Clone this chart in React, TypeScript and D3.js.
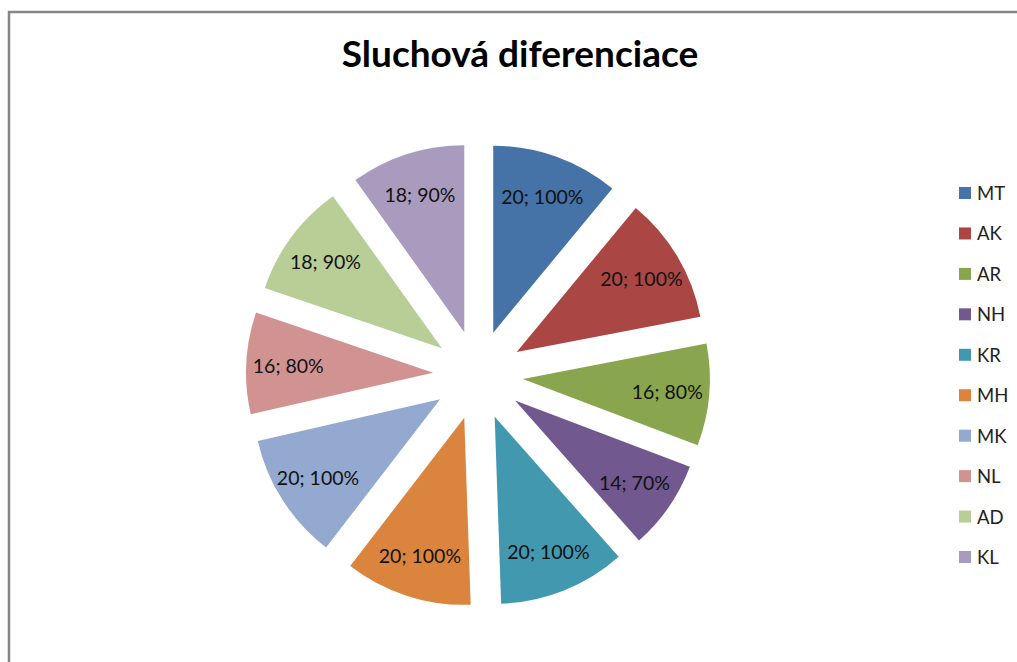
import React from "react";
import * as d3 from "d3";

const categories = ["MT", "AK", "AR", "NH", "KR", "MH", "MK", "NL", "AD", "KL"];
const values = [20, 20, 16, 14, 20, 20, 20, 16, 18, 18];
const percents = ["100%", "100%", "80%", "70%", "100%", "100%", "100%", "80%", "90%", "90%"];
const colors = ["#4572A7", "#AA4643", "#89A54E", "#71588F", "#4198AF", "#DB843D", "#93A9CF", "#D19392", "#B9CD96", "#A99BBD"];

const W = 1017;
const H = 662;
const cx = 478;
const cy = 375;
const R = 187;
const explode = 45;
const labelDist = 145;
const FONT = "Lato, 'Open Sans', sans-serif";

export default function App() {
  const pie = d3.pie<number>().sort(null).value((d) => d).startAngle(0).endAngle(2 * Math.PI);
  const arcs = pie(values);
  const arcGen = d3.arc<d3.PieArcDatum<number>>().innerRadius(0).outerRadius(R);
  const legendY = d3.scalePoint<string>().domain(categories).range([193, 557]);

  return (
    <svg width={W} height={H} style={{ position: "absolute", left: 0, top: 0, background: "#fff" }}>
      <rect x={9} y={12} width={W + 10} height={H + 10} fill="#fff" stroke="#868686" strokeWidth={2.5} />
      <text x={520} y={67} textAnchor="middle" fontFamily={FONT} fontWeight="bold" fontSize={37} fill="#000">
        Sluchová diferenciace
      </text>
      {arcs.map((a, i) => {
        const mid = (a.startAngle + a.endAngle) / 2;
        const vx = cx + explode * Math.sin(mid);
        const vy = cy - explode * Math.cos(mid);
        const lx = vx + labelDist * Math.sin(mid);
        const ly = vy - labelDist * Math.cos(mid);
        return (
          <g key={categories[i]}>
            <path d={arcGen(a) || ""} transform={`translate(${vx},${vy})`} fill={colors[i]} />
            <text x={lx} y={ly} textAnchor="middle" dominantBaseline="central" fontFamily={FONT} fontSize={19.5} fill="#111">
              {`${values[i]}; ${percents[i]}`}
            </text>
          </g>
        );
      })}
      {categories.map((c, i) => (
        <g key={"lg" + c}>
          <rect x={959} y={(legendY(c) as number) - 6} width={12} height={12} fill={colors[i]} />
          <text x={977} y={legendY(c) as number} dominantBaseline="central" fontFamily={FONT} fontSize={18.5} fill="#222">
            {c}
          </text>
        </g>
      ))}
    </svg>
  );
}
